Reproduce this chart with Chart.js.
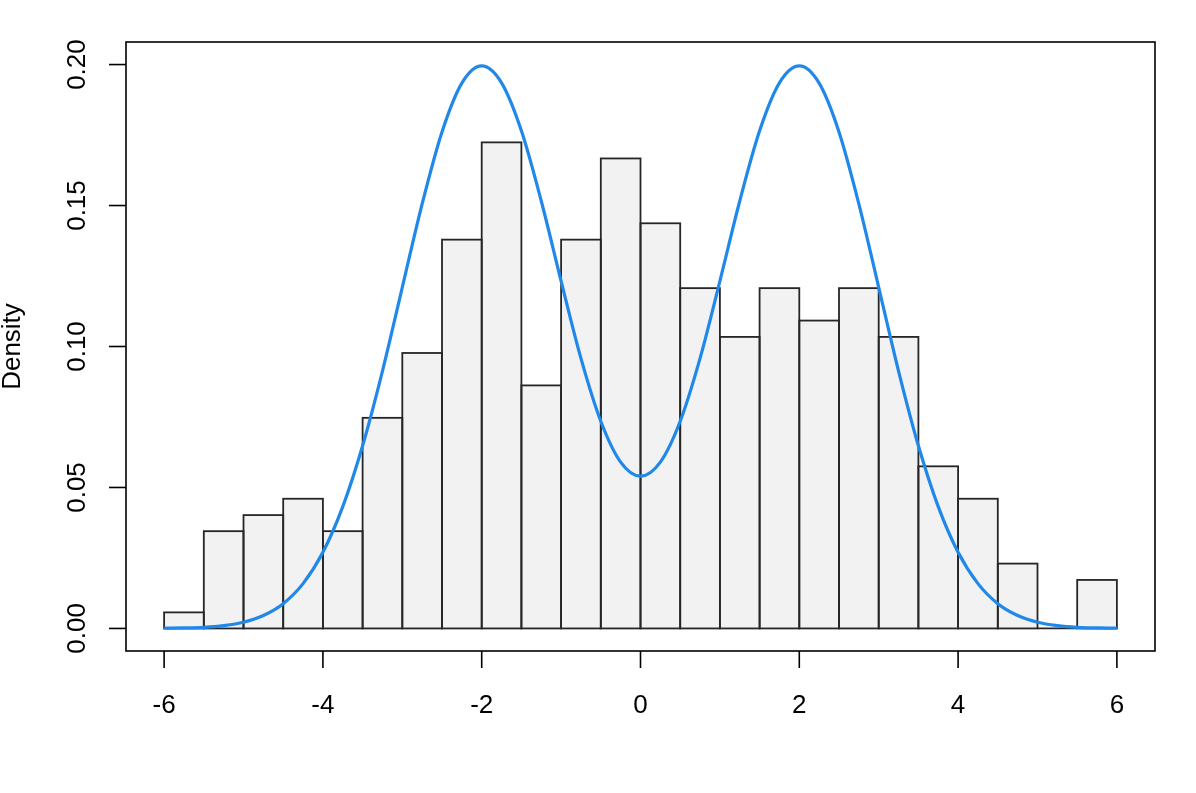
<!DOCTYPE html>
<html>
<head>
<meta charset="utf-8">
<script src="https://cdn.jsdelivr.net/npm/chart.js@4.4.1/dist/chart.umd.min.js"></script>
<style>
  html, body { margin: 0; padding: 0; background: #fff; }
  #wrap { width: 1196px; height: 793px; }
</style>
</head>
<body>
<div id="wrap"><canvas id="hist" width="1196" height="793"></canvas></div>
<script>
// histogram bins, width 0.5, values are densities
const binCenters = [-5.75, -5.25, -4.75, -4.25, -3.75, -3.25, -2.75, -2.25, -1.75, -1.25, -0.75, -0.25,
                    0.25, 0.75, 1.25, 1.75, 2.25, 2.75, 3.25, 3.75, 4.25, 4.75, 5.25, 5.75];
const binDensity = [0.0057, 0.0345, 0.0402, 0.0460, 0.0345, 0.0747, 0.0977, 0.1379, 0.1724, 0.0862, 0.1379, 0.1667,
                    0.1437, 0.1207, 0.1034, 0.1207, 0.1092, 0.1207, 0.1034, 0.0575, 0.0460, 0.0230, 0, 0.0172];

// blue density curve
const curveX = [-6, -5.75, -5.5, -5.25, -5, -4.75, -4.5, -4.25, -4, -3.75, -3.5, -3.25, -3, -2.75, -2.5, -2.25, -2,
                -1.75, -1.5, -1.25, -1, -0.75, -0.5, -0.25, 0, 0.25, 0.5, 0.75, 1, 1.25, 1.5, 1.75, 2,
                2.25, 2.5, 2.75, 3, 3.25, 3.5, 3.75, 4, 4.25, 4.5, 4.75, 5, 5.25, 5.5, 5.75, 6];
const curveY = [0.0001, 0.0002, 0.0004, 0.0010, 0.0022, 0.0046, 0.0088, 0.0159, 0.0270, 0.0432, 0.0648, 0.0913, 0.1210,
                0.1506, 0.1761, 0.1934, 0.1995, 0.1935, 0.1765, 0.1516, 0.1232, 0.0958, 0.0735, 0.0590, 0.0540,
                0.0590, 0.0735, 0.0958, 0.1232, 0.1516, 0.1765, 0.1935, 0.1995, 0.1934, 0.1761, 0.1506, 0.1210,
                0.0913, 0.0648, 0.0432, 0.0270, 0.0159, 0.0088, 0.0046, 0.0022, 0.0010, 0.0004, 0.0002, 0.0001];

const xTicks = [-6, -4, -2, 0, 2, 4, 6];
const yTicks = [0, 0.05, 0.10, 0.15, 0.20];
const yTickLabels = ['0.00', '0.05', '0.10', '0.15', '0.20'];
const yTitle = 'Density';

const FONT = '26px "Liberation Sans", Arial, sans-serif';

// R-style frame: bar outlines, box, ticks and labels
const rFrame = {
  id: 'rFrame',
  afterDatasetDraw(chart, args) {
    if (args.index !== 1) return;
    const ctx = chart.ctx;
    ctx.save();
    ctx.strokeStyle = '#262626';
    ctx.lineWidth = 1.8;
    args.meta.data.forEach(bar => {
      const p = bar.getProps(['x', 'y', 'base', 'width'], true);
      ctx.strokeRect(p.x - p.width / 2, Math.min(p.y, p.base), p.width, Math.abs(p.base - p.y));
    });
    ctx.restore();
  },
  afterDraw(chart) {
    const ctx = chart.ctx;
    const area = chart.chartArea;
    const xs = chart.scales.x, ys = chart.scales.y;
    ctx.save();
    ctx.strokeStyle = '#000';
    ctx.lineWidth = 1.6;
    ctx.strokeRect(area.left, area.top, area.right - area.left, area.bottom - area.top);

    ctx.fillStyle = '#000';
    ctx.font = FONT;
    ctx.textAlign = 'center';
    ctx.textBaseline = 'alphabetic';

    xTicks.forEach(v => {
      const px = xs.getPixelForValue(v);
      ctx.beginPath();
      ctx.moveTo(px, area.bottom);
      ctx.lineTo(px, area.bottom + 17);
      ctx.stroke();
      ctx.fillText(String(v), px, area.bottom + 62);
    });

    yTicks.forEach((v, i) => {
      const py = ys.getPixelForValue(v);
      ctx.beginPath();
      ctx.moveTo(area.left - 17, py);
      ctx.lineTo(area.left, py);
      ctx.stroke();
      ctx.save();
      ctx.translate(area.left - 41, py);
      ctx.rotate(-Math.PI / 2);
      ctx.fillText(yTickLabels[i], 0, 0);
      ctx.restore();
    });

    ctx.save();
    ctx.translate(20, (area.top + area.bottom) / 2);
    ctx.rotate(-Math.PI / 2);
    ctx.fillText(yTitle, 0, 0);
    ctx.restore();

    ctx.restore();
  }
};

new Chart(document.getElementById('hist'), {
  type: 'bar',
  data: {
    datasets: [
      {
        type: 'line',
        order: 0,
        data: curveX.map((x, i) => ({ x: x, y: curveY[i] })),
        borderColor: '#1f88e8',
        borderWidth: 3.2,
        pointRadius: 0,
        fill: false,
        cubicInterpolationMode: 'monotone'
      },
      {
        type: 'bar',
        order: 1,
        data: binCenters.map((x, i) => ({ x: x, y: binDensity[i] })),
        backgroundColor: '#f2f2f2',
        borderWidth: 0,
        barPercentage: 1,
        categoryPercentage: 1
      }
    ]
  },
  options: {
    responsive: false,
    animation: false,
    layout: { padding: { left: 126, right: 41, top: 42, bottom: 142 } },
    plugins: { legend: { display: false }, tooltip: { enabled: false } },
    scales: {
      x: { type: 'linear', display: false, offset: false, min: -6.48, max: 6.48 },
      y: { type: 'linear', display: false, min: -0.008, max: 0.208 }
    }
  },
  plugins: [rFrame]
});
</script>
</body>
</html>
